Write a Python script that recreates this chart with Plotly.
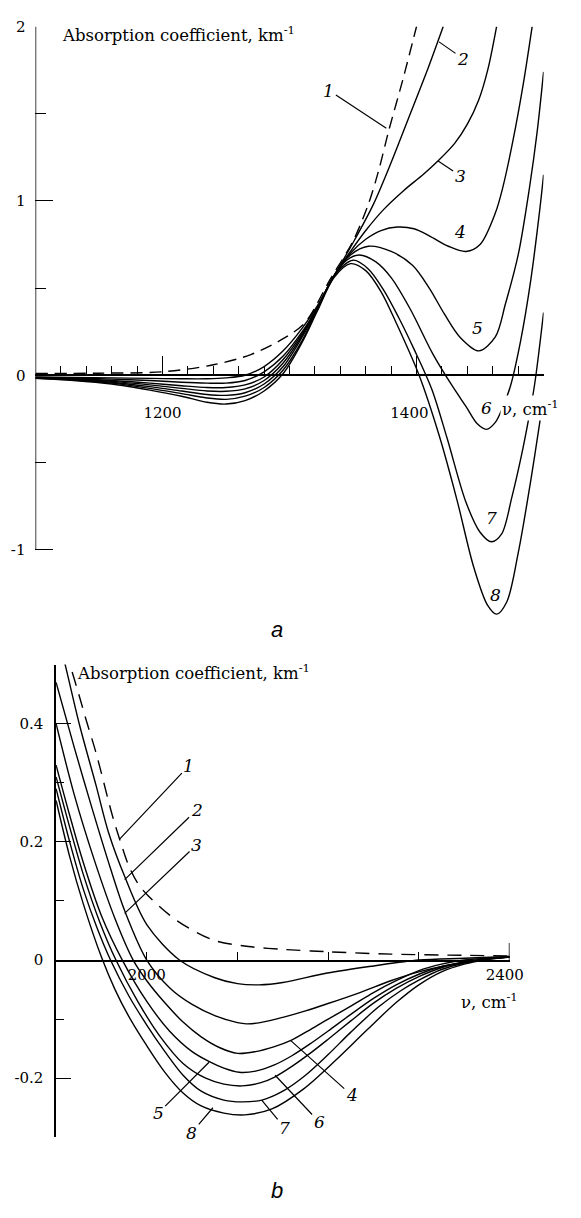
import plotly.graph_objects as go

W, H = 581, 1218
SERIF = "DejaVu Serif"
NB = "\u00a0"

# ---------------- Panel a (1100-1500 cm-1) ----------------
a_ticks_major = [1200, 1400]
a_ticks_text = ["1200", "1400" + NB * 3]
a_ticks_minor = list(range(1100, 1501, 20))
a_yticks = [-1, 0, 1, 2]
a_yticks_minor = [-0.5, 0.5, 1.5]

a1_nu = [1100, 1150, 1200, 1240, 1270, 1295, 1312, 1332, 1350, 1362, 1370, 1378, 1389, 1400]
a1_k = [0.01, 0.012, 0.02, 0.06, 0.12, 0.21, 0.30, 0.55, 0.77, 0.98, 1.17, 1.40, 1.69, 2.0]

a2_nu = [1100, 1130, 1160, 1190, 1215, 1235, 1250, 1265, 1280, 1295, 1310, 1322, 1335, 1350, 1366, 1380, 1394, 1408, 1421]
a2_k = [-0.01, -0.012, -0.015, -0.018, -0.02, -0.02, -0.015, 0.0, 0.05, 0.14, 0.27, 0.40, 0.57, 0.76, 0.98, 1.22, 1.48, 1.74, 2.0]

a3_nu = [1100, 1130, 1160, 1190, 1215, 1235, 1250, 1265, 1280, 1295, 1310, 1322, 1335, 1348, 1360, 1374, 1390, 1405, 1417, 1430, 1440, 1449, 1456, 1463]
a3_k = [-0.012, -0.016, -0.022, -0.03, -0.04, -0.045, -0.045, -0.03, 0.02, 0.11, 0.25, 0.39, 0.57, 0.71, 0.83, 0.95, 1.06, 1.15, 1.23, 1.33, 1.44, 1.58, 1.75, 2.0]

a4_nu = [1100, 1130, 1160, 1190, 1215, 1235, 1250, 1265, 1280, 1295, 1310, 1322, 1335, 1348, 1360, 1372, 1385, 1398, 1410, 1425, 1439, 1450, 1462, 1468, 1476, 1484, 1491]
a4_k = [-0.014, -0.02, -0.03, -0.045, -0.06, -0.07, -0.07, -0.055, -0.01, 0.09, 0.24, 0.39, 0.57, 0.70, 0.78, 0.83, 0.85, 0.84, 0.80, 0.74, 0.71, 0.75, 0.93, 1.08, 1.35, 1.67, 2.0]

a5_nu = [1100, 1130, 1160, 1190, 1215, 1235, 1250, 1265, 1280, 1295, 1310, 1322, 1335, 1348, 1362, 1380, 1397, 1410, 1422, 1434, 1449, 1462, 1470, 1480, 1489, 1495, 1500]
a5_k = [-0.015, -0.022, -0.035, -0.055, -0.075, -0.09, -0.092, -0.078, -0.03, 0.07, 0.23, 0.39, 0.57, 0.69, 0.74, 0.71, 0.63, 0.50, 0.35, 0.22, 0.14, 0.22, 0.41, 0.69, 1.08, 1.40, 1.74]

a6_nu = [1100, 1130, 1160, 1190, 1215, 1235, 1250, 1265, 1280, 1295, 1310, 1322, 1335, 1345, 1355, 1368, 1380, 1395, 1413, 1428, 1439, 1448, 1455, 1462, 1468, 1474, 1482, 1490, 1497, 1500]
a6_k = [-0.016, -0.025, -0.04, -0.065, -0.09, -0.11, -0.115, -0.1, -0.05, 0.05, 0.22, 0.38, 0.57, 0.66, 0.69, 0.65, 0.56, 0.38, 0.12, -0.06, -0.18, -0.28, -0.31, -0.27, -0.18, -0.06, 0.20, 0.55, 0.95, 1.15]

a7_nu = [1100, 1130, 1160, 1190, 1215, 1235, 1250, 1265, 1280, 1295, 1310, 1322, 1335, 1350, 1362, 1374, 1386, 1398, 1412, 1424, 1439, 1450, 1459, 1467, 1475, 1482, 1488, 1493, 1500]
a7_k = [-0.017, -0.027, -0.045, -0.075, -0.105, -0.13, -0.138, -0.12, -0.07, 0.03, 0.20, 0.38, 0.57, 0.66, 0.61, 0.49, 0.33, 0.15, -0.08, -0.36, -0.73, -0.90, -0.955, -0.91, -0.70, -0.48, -0.26, -0.05, 0.36]

a8_nu = [1100, 1130, 1160, 1190, 1215, 1235, 1250, 1265, 1280, 1295, 1310, 1322, 1335, 1348, 1360, 1372, 1384, 1402, 1418, 1432, 1445, 1456, 1463, 1471, 1480, 1490, 1497, 1500]
a8_k = [-0.018, -0.03, -0.05, -0.085, -0.12, -0.155, -0.165, -0.145, -0.09, 0.01, 0.19, 0.37, 0.56, 0.64, 0.60, 0.48, 0.30, 0.0, -0.35, -0.72, -1.10, -1.32, -1.37, -1.30, -1.02, -0.60, -0.27, -0.12]

# ---------------- Panel b (1900-2400 cm-1) ----------------
b_ticks_major = [2000, 2400]
b_ticks_text = ["2000", "2400" + NB * 2]
b_ticks_minor = [2100, 2200, 2300]
b_yticks = [-0.2, 0, 0.2, 0.4]
b_yticks_text = ["-0.2", "0", "0.2", "0.4"]
b_yticks_minor = [-0.3, -0.1, 0.1, 0.3, 0.5]

b1_nu = [1900, 1915, 1925, 1933, 1944, 1962, 1970, 1980, 1990, 2002, 2034, 2073, 2112, 2151, 2200, 2270, 2350, 2400]
b1_k = [0.56, 0.50, 0.45, 0.407, 0.351, 0.245, 0.205, 0.16, 0.13, 0.108, 0.066, 0.034, 0.023, 0.018, 0.014, 0.010, 0.008, 0.007]

b2_nu = [1900, 1910, 1926, 1944, 1958, 1976, 2000, 2036, 2075, 2100, 2124, 2150, 2199, 2250, 2300, 2350, 2400]
b2_k = [0.56, 0.50, 0.397, 0.296, 0.215, 0.14, 0.06, 0.0, -0.03, -0.04, -0.042, -0.038, -0.022, -0.01, 0.0, 0.003, 0.006]

b3_nu = [1900, 1920, 1940, 1960, 1976, 2000, 2026, 2050, 2075, 2100, 2110, 2125, 2150, 2175, 2199, 2235, 2269, 2300, 2328, 2360, 2400]
b3_k = [0.47, 0.36, 0.255, 0.155, 0.082, 0.0, -0.048, -0.075, -0.094, -0.106, -0.108, -0.106, -0.097, -0.086, -0.074, -0.055, -0.035, -0.02, -0.01, -0.002, 0.005]

b4_nu = [1900, 1920, 1942, 1965, 1985, 2000, 2018, 2040, 2060, 2080, 2100, 2120, 2140, 2159, 2180, 2200, 2225, 2250, 2275, 2300, 2325, 2350, 2375, 2400]
b4_k = [0.40, 0.28, 0.17, 0.07, 0.0, -0.035, -0.069, -0.105, -0.13, -0.148, -0.158, -0.155, -0.147, -0.136, -0.118, -0.10, -0.078, -0.055, -0.035, -0.018, -0.007, 0.0, 0.003, 0.005]

b5_nu = [1900, 1915, 1930, 1950, 1973, 2000, 2025, 2050, 2069, 2085, 2102, 2120, 2140, 2160, 2180, 2200, 2225, 2250, 2275, 2300, 2325, 2350, 2375, 2400]
b5_k = [0.33, 0.245, 0.165, 0.075, 0.0, -0.07, -0.12, -0.155, -0.172, -0.183, -0.19, -0.188, -0.178, -0.162, -0.142, -0.12, -0.092, -0.065, -0.042, -0.024, -0.011, -0.003, 0.002, 0.005]

b6_nu = [1900, 1915, 1930, 1948, 1966, 1990, 2015, 2040, 2065, 2085, 2105, 2125, 2141, 2160, 2180, 2200, 2225, 2250, 2275, 2300, 2325, 2350, 2375, 2400]
b6_k = [0.31, 0.225, 0.145, 0.065, 0.0, -0.07, -0.13, -0.175, -0.2, -0.21, -0.213, -0.208, -0.198, -0.18, -0.158, -0.134, -0.103, -0.073, -0.048, -0.028, -0.013, -0.004, 0.002, 0.005]

b7_nu = [1900, 1915, 1930, 1945, 1960, 1980, 2000, 2020, 2040, 2060, 2085, 2105, 2127, 2150, 2175, 2200, 2225, 2255, 2280, 2300, 2325, 2350, 2375, 2400]
b7_k = [0.29, 0.20, 0.12, 0.055, 0.0, -0.06, -0.11, -0.155, -0.195, -0.222, -0.237, -0.24, -0.237, -0.222, -0.195, -0.16, -0.122, -0.08, -0.052, -0.034, -0.016, -0.005, 0.002, 0.005]

b8_nu = [1900, 1915, 1930, 1950, 1965, 1980, 2000, 2020, 2040, 2060, 2085, 2108, 2138, 2173, 2208, 2243, 2275, 2300, 2325, 2350, 2375, 2400]
b8_k = [0.27, 0.175, 0.095, 0.005, -0.05, -0.095, -0.145, -0.19, -0.225, -0.247, -0.259, -0.262, -0.252, -0.218, -0.17, -0.118, -0.072, -0.042, -0.02, -0.007, 0.001, 0.006]

fig = go.Figure()


def add_curve(nu, k, xa, ya, dash=None):
    fig.add_trace(go.Scatter(
        x=nu, y=k, xaxis=xa, yaxis=ya, mode="lines",
        line=dict(color="black", width=1.4, shape="spline", smoothing=0.9, dash=dash),
        hoverinfo="skip", showlegend=False))


add_curve(a1_nu, a1_k, "x", "y", dash="12px,7px")
for nu, k in [(a2_nu, a2_k), (a3_nu, a3_k), (a4_nu, a4_k), (a5_nu, a5_k),
              (a6_nu, a6_k), (a7_nu, a7_k), (a8_nu, a8_k)]:
    add_curve(nu, k, "x", "y")

add_curve(b1_nu, b1_k, "x2", "y2", dash="14px,9px")
for nu, k in [(b2_nu, b2_k), (b3_nu, b3_k), (b4_nu, b4_k), (b5_nu, b5_k),
              (b6_nu, b6_k), (b7_nu, b7_k), (b8_nu, b8_k)]:
    add_curve(nu, k, "x2", "y2")

tickfont = dict(family=SERIF, size=15, color="black")
axis_common = dict(linecolor="black", linewidth=1.5, showgrid=False,
                   zeroline=False, ticks="inside", tickcolor="black", tickwidth=1.2,
                   tickfont=tickfont)

# panel a: plotting area extends below -1 (curve 8); axis line drawn from -1 to 2
A_PX0 = 369.0          # pixel row of k = 0
A_PXU = 175.67         # pixels per unit
a_top = A_PX0 - 2 * A_PXU
a_bot_data = A_PX0 + 1.5 * A_PXU

fig.update_layout(
    width=W, height=H, margin=dict(l=0, r=0, t=0, b=0),
    paper_bgcolor="white", plot_bgcolor="rgba(0,0,0,0)", showlegend=False,
    xaxis=dict(domain=[37 / W, 567 / W], range=[1100, 1500], anchor="free",
               position=1 - A_PX0 / H, tickmode="array", tickvals=a_ticks_major,
               ticktext=a_ticks_text, ticklen=19, showline=True,
               minor=dict(tickmode="array", tickvals=a_ticks_minor, ticks="inside",
                          ticklen=9, tickcolor="black", tickwidth=1.2),
               ticklabelstandoff=24, **axis_common),
    yaxis=dict(domain=[1 - a_bot_data / H, 1 - a_top / H], range=[-1.5, 2], anchor="x",
               tickmode="array", tickvals=a_yticks,
               ticktext=[str(v) for v in a_yticks], ticklen=18, showline=False,
               minor=dict(tickmode="array", tickvals=a_yticks_minor, ticks="inside",
                          ticklen=11, tickcolor="black", tickwidth=1.2),
               ticklabelstandoff=9, **axis_common),
    xaxis2=dict(domain=[58.5 / W, 531.5 / W], range=[1900, 2400], anchor="free",
                position=1 - 959 / H, tickmode="array", tickvals=b_ticks_major,
                ticktext=b_ticks_text, ticklen=8, showline=True,
                minor=dict(tickmode="array", tickvals=b_ticks_minor, ticks="inside",
                           ticklen=8, tickcolor="black", tickwidth=1.2),
                ticklabelstandoff=0, **axis_common),
    yaxis2=dict(domain=[1 - 1136.7 / H, 1 - 660.5 / H], range=[-0.3, 0.5], anchor="x2",
                tickmode="array", tickvals=b_yticks, ticktext=b_yticks_text, ticklen=15,
                showline=True,
                minor=dict(tickmode="array", tickvals=b_yticks_minor, ticks="inside",
                           ticklen=8, tickcolor="black", tickwidth=1.2),
                ticklabelstandoff=8, **axis_common),
)

# vertical axis line of panel a (from -1 to 2 only)
fig.add_shape(type="line", xref="x", yref="y", x0=1100, x1=1100,
              y0=min(a_yticks), y1=max(a_yticks), line=dict(color="black", width=1.5))
# taller end tick at 2400
fig.add_shape(type="line", xref="x2", yref="y2", x0=2400, x1=2400, y0=0, y1=0.029,
              line=dict(color="black", width=1.5))

lab_font = dict(family=SERIF, size=17, color="black")
title_font = dict(family=SERIF, size=16.5, color="black")
ann = []

# axis titles
ann.append(dict(xref="paper", yref="paper", x=63 / W, y=1 - 25 / H, xanchor="left",
                yanchor="middle", showarrow=False,
                text="Absorption coefficient, km<sup>-1</sup>", font=title_font))
ann.append(dict(xref="paper", yref="paper", x=78 / W, y=1 - 668 / H, xanchor="left",
                yanchor="middle", showarrow=False,
                text="Absorption coefficient, km<sup>-1</sup>", font=title_font))
ann.append(dict(xref="x", yref="y", x=1490, y=-0.19, showarrow=False,
                text="ν, cm<sup>-1</sup>", bgcolor="white", font=title_font))
ann.append(dict(xref="x2", yref="y2", x=2378, y=-0.07, showarrow=False,
                text="ν, cm<sup>-1</sup>", font=title_font))

# panel letters
ann.append(dict(xref="paper", yref="paper", x=289 / W, y=1 - 625 / H, showarrow=False,
                text="<i>a</i>", font=dict(family="Liberation Sans", size=22, color="black")))
ann.append(dict(xref="paper", yref="paper", x=289 / W, y=1 - 1205 / H, showarrow=False,
                text="<i>b</i>", font=dict(family="Liberation Sans", size=22, color="black")))

# panel a curve labels with leaders: (label pos) -> (curve point)
a_leaders = [("1", 1331, 1.633, 1376.2, 1.417),
             ("2", 1436.6, 1.816, 1417.7, 1.912),
             ("3", 1434.3, 1.144, 1417.0, 1.229)]
for t, lx, ly, px, py in a_leaders:
    ann.append(dict(xref="x", yref="y", axref="x", ayref="y", x=px, y=py, ax=lx, ay=ly,
                    text="<i>%s</i>" % t, showarrow=True, arrowhead=0, arrowwidth=1.2,
                    arrowcolor="black", font=lab_font))
a_plain = [("4", 1434.3, 0.82), ("5", 1448, 0.27), ("6", 1454.7, -0.19),
           ("7", 1459.2, -0.82), ("8", 1462.3, -1.26)]
for t, lx, ly in a_plain:
    ann.append(dict(xref="x", yref="y", x=lx, y=ly, text="<i>%s</i>" % t,
                    showarrow=False, font=lab_font))

# panel b labels with leaders
b_leaders = [("1", 2046.4, 0.329, 1970.3, 0.205),
             ("2", 2054.9, 0.254, 1975.6, 0.136),
             ("3", 2054.9, 0.195, 1975.6, 0.079),
             ("4", 2226.0, -0.229, 2158.5, -0.136),
             ("5", 2012.6, -0.259, 2068.6, -0.173),
             ("6", 2190.0, -0.274, 2141.5, -0.195),
             ("7", 2152.0, -0.284, 2126.7, -0.237),
             ("8", 2049.6, -0.292, 2072.9, -0.250)]
for t, lx, ly, px, py in b_leaders:
    ann.append(dict(xref="x2", yref="y2", axref="x2", ayref="y2", x=px, y=py, ax=lx, ay=ly,
                    text="<i>%s</i>" % t, showarrow=True, arrowhead=0, arrowwidth=1.2,
                    arrowcolor="black", font=lab_font))

fig.update_layout(annotations=ann)
fig.write_html("out.html", config={"displayModeBar": False},
               post_script="document.body.style.margin='0px';"
                           "document.body.style.overflow='hidden';")
